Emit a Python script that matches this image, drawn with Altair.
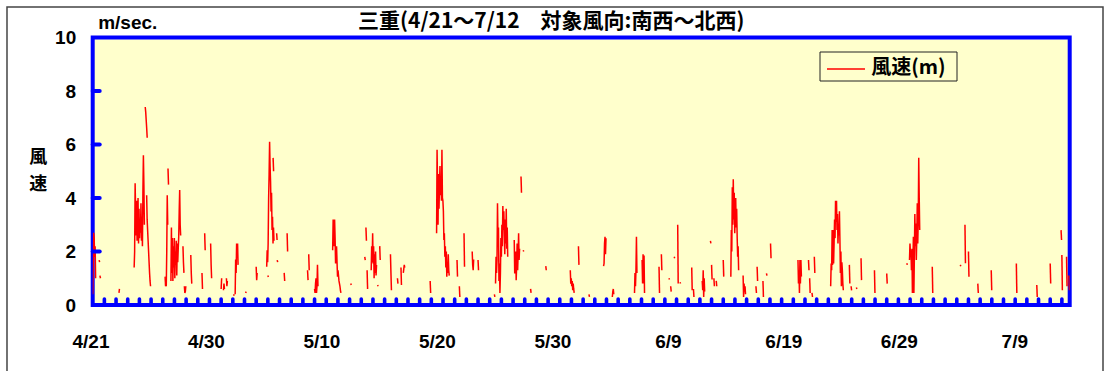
import altair as alt
import pandas as pd

# ---- data (x = days since 4/21, y = wind speed m/s, hourly steps) ----
seg_start = [0.0, 0.55, 0.62, 2.25, 3.55, 4.5, 4.62, 6.2, 6.3, 6.45, 6.7, 7.73, 7.85, 8.4, 9.36, 9.59,
             10.1, 11.0, 11.2, 11.45, 12.07, 12.2, 13.1, 14.0, 14.9, 15.45, 15.0, 15.75, 15.8, 16.4,
             16.65, 18.4, 18.5, 19.0, 20.55, 22.1, 23.3, 23.4, 23.5, 23.85, 24.4, 24.58, 25.5, 26.1,
             26.4, 26.6, 28.9, 29.45, 31.2, 31.4, 31.8, 32.5, 33.0, 34.4, 34.5, 36.1, 36.68, 36.87,
             37.5, 38.8, 40.9, 41.6, 42.5, 43.75, 44.5, 46.4, 47.05, 48.5, 48.7, 49.35, 49.5, 49.8,
             50.1, 50.3, 51.3, 51.45, 52.2, 52.9, 53.0, 53.2, 53.4, 54.0, 54.65, 55.7, 56.8, 56.9,
             57.4, 57.7, 58.05, 60.4, 61.3, 61.4, 61.6, 61.8, 63.2, 64.8, 64.95, 65.4, 65.8, 66.95,
             68.0, 69.72, 69.95, 71.9, 74.3, 74.7, 75.0, 75.8, 76.95, 79.1, 80.85, 82.0, 82.93, 83.0,
             83.4, 83.6]

seg_speed = [
    [0.4, 1.5, 2.7, 2.5, 1.8, 2.2, 1.0], [1.68, 1.6], [1.1, 1.0], [0.45, 0.6],
    [1.4, 2.0, 4.55, 3.5, 2.6, 3.9, 2.4, 3.2, 4.0, 2.3, 3.6, 2.5, 3.1, 2.7, 3.8, 2.4, 3.3, 2.2, 4.2, 5.6, 4.5, 3.0],
    [7.4, 7.2, 6.9, 6.6, 6.25], [4.1, 3.2, 2.8, 2.4, 2.0, 1.6, 1.2, 0.9, 0.7], [1.06, 0.7],
    [0.7, 2.0, 4.1, 3.0], [5.1, 4.5],
    [0.9, 2.9, 1.2, 2.5, 0.9, 2.2, 1.4, 2.5, 1.0, 2.0, 1.5, 2.4, 1.1, 2.3, 1.6, 2.1, 2.55, 3.5, 4.3, 3.0, 2.6],
    [2.2, 1.6, 1.2], [0.7, 0.45, 0.5, 0.7], [1.87, 1.2, 0.8], [1.2, 0.6], [2.68, 2.05],
    [2.3, 1.5, 1.0], [0.6, 1.0], [0.55, 0.8, 0.6], [1.0, 0.7, 0.9], [0.4, 0.35],
    [0.4, 1.7, 1.2, 2.3, 1.8, 2.3, 1.5], [0.45, 0.5], [1.43, 0.93, 1.2],
    [1.43, 2.05, 1.6, 2.3, 4.0, 4.9, 6.1, 5.2, 4.6, 3.5, 4.2, 2.8, 3.3, 2.3, 2.9, 2.4],
    [5.5, 5.0], [1.1, 1.05], [2.68, 2.43], [1.68, 1.6], [1.2, 0.9],
    [2.68, 2.0], [1.3, 0.93], [1.9, 1.3], [0.6, 0.45, 0.8, 1.0, 0.45, 0.7, 1.5, 0.7],
    [2.05, 3.2, 2.6, 2.2, 3.2, 2.5, 1.55, 2.0, 2.2, 1.6, 1.06, 1.3, 1.1, 0.9, 0.8, 0.7, 0.55, 0.45],
    [0.8, 0.75], [1.8, 1.68], [2.9, 2.4], [1.3, 0.6],
    [1.3, 2.2, 1.6, 2.68, 1.55, 2.2, 1.0, 1.9, 1.2, 2.0, 1.1, 1.5], [0.75, 0.7], [2.2, 1.68],
    [1.9, 1.2, 0.55], [1.0, 0.8], [1.4, 0.75], [1.2, 1.35, 1.5, 1.4], [0.9, 0.45],
    [2.68, 5.8, 4.4, 3.0, 4.9, 3.6, 4.5, 5.2, 4.1, 4.6, 3.9, 5.8, 4.0, 3.9, 3.5, 2.43, 2.68, 1.8, 2.2, 1.4,
     2.0, 1.06, 1.6, 1.2, 1.9, 1.3, 1.1],
    [1.68, 1.06], [0.7, 0.3], [2.68, 1.43], [2.0, 1.5, 1.3, 1.7], [1.68, 1.3], [0.4, 0.3],
    [0.8, 1.8, 1.2, 1.68, 3.8, 2.5, 2.9, 0.9, 1.55, 0.45, 1.2, 2.5, 1.8, 3.0, 2.2, 3.7, 2.8, 3.5, 2.6, 1.9,
     3.2, 2.3, 3.6, 2.1, 2.9, 1.8],
    [2.43, 1.18, 1.8, 2.0, 0.93, 1.5, 2.3, 1.3, 1.9, 2.68, 1.68, 2.1], [4.8, 4.2], [2.05, 2.0],
    [0.6, 0.45], [1.45, 1.3], [1.3, 0.8, 1.0, 0.7, 0.9, 0.55, 0.8, 0.6, 0.45], [2.2, 1.5], [0.4, 0.3],
    [1.45, 1.55, 2.3, 2.55, 1.9, 2.5], [0.3, 0.5, 0.6, 0.4], [0.45, 1.2, 0.7, 1.3, 2.55, 1.2],
    [1.68, 0.8, 1.9, 0.8, 1.85, 0.45], [1.43, 0.45], [1.9, 1.3], [1.0, 0.95], [0.7, 0.5], [1.8, 1.75],
    [3.0, 0.8], [0.85, 0.8], [1.4, 0.55], [0.6, 0.3], [0.9, 0.55, 1.3, 0.3, 1.0, 0.5], [2.4, 2.3],
    [1.5, 0.95], [1.0, 0.7], [0.9, 0.7], [1.68, 1.06],
    [1.06, 2.8, 2.0, 4.4, 3.0, 4.7, 3.2, 4.2, 2.68, 3.5, 4.0, 2.9, 3.6, 2.55, 1.8, 2.2, 1.3],
    [1.1, 0.3, 0.8, 0.5, 0.7, 0.4], [0.7, 0.45], [1.43, 0.9], [0.9, 0.3], [1.18, 1.1], [2.3, 1.75],
    [1.68, 0.8, 1.3, 0.45, 1.68, 0.8, 1.68, 1.06], [1.68, 1.3], [1.0, 0.45], [0.45, 0.3], [1.8, 1.2],
    [0.7, 1.55, 1.3, 2.8, 1.5, 2.8, 1.55, 2.3, 3.2, 2.5, 3.9, 3.1, 3.9, 2.8, 3.4, 2.3, 3.0, 2.6, 3.5, 2.43,
     1.2, 2.0, 0.7, 1.6, 1.3, 0.8, 0.55],
    [1.5, 0.8], [0.7, 0.55], [0.65, 0.6], [1.75, 0.93], [1.3, 0.45], [1.18, 0.8], [1.56, 1.5],
    [1.68, 2.3, 1.9, 2.05, 1.3, 2.1, 0.45, 1.5, 2.55, 0.45, 1.8, 3.4, 2.2, 3.05, 1.68, 2.5, 3.8, 2.3, 3.2,
     5.5, 4.0, 2.8],
    [1.43, 0.45], [1.5, 1.45], [3.0, 1.56], [2.0, 1.06], [0.8, 0.45], [1.3, 0.55], [1.55, 0.45],
    [0.75, 0.3], [1.55, 0.8], [2.8, 2.43], [1.87, 0.55], [1.8, 0.7], [1.1, 0.55],
]

series_name = "風速(m)"
title_text = "三重(4/21～7/12　対象風向:南西～北西)"
unit_text = "m/sec."
date_labels = ["4/21", "4/30", "5/10", "5/20", "5/30", "6/9", "6/19", "6/29", "7/9"]
date_label_days = [-0.15, 9.74, 19.63, 29.52, 39.41, 49.3, 59.19, 69.08, 78.97]
y_tick_values = [0, 2, 4, 6, 8, 10]
y_inner_ticks = [2, 4, 6, 8]
day_ticks = list(range(1, 84))
x_max = 83.67

rows = []
for i, (s, vals) in enumerate(zip(seg_start, seg_speed)):
    for j, v in enumerate(vals):
        rows.append({"seg": i, "day": s + j / 24.0, "speed": v})
df = pd.DataFrame(rows)

W, H = 977, 267.5
BLUE = "#0000FF"
RED = "#FF0000"
LATIN = "Liberation Sans"
CJK = "Noto Sans CJK JP"

xscale = alt.Scale(domain=[0, x_max], nice=False, zero=False)
yscale = alt.Scale(domain=[0, 10], nice=False)

line = alt.Chart(df).mark_line(strokeWidth=1.5, clip=True, color=RED).encode(
    x=alt.X("day:Q", scale=xscale, axis=None),
    y=alt.Y("speed:Q", scale=yscale,
            axis=alt.Axis(values=y_tick_values, domain=False, ticks=False, grid=False,
                          labelPadding=17, labelFont=LATIN, labelFontSize=19,
                          labelFontWeight="bold", labelColor="#000",
                          title=["風", "速"], titleAngle=0, titleFont=CJK, titleFontSize=18,
                          titleFontWeight="bold", titleColor="#000", titleLineHeight=27,
                          titleAlign="center", titleBaseline="middle", titleX=-55, titleY=120)),
    detail="seg:N",
)

xlab_df = pd.DataFrame({"d": date_label_days, "t": date_labels})
xlabels = alt.Chart(xlab_df).mark_text(font=LATIN, fontSize=19, fontWeight="bold", align="center",
                                       baseline="middle", color="#000").encode(
    x=alt.X("d:Q", scale=xscale, axis=None), y=alt.value(H + 37), text="t:N")

ytick_df = pd.DataFrame({"v": y_inner_ticks})
yticks = alt.Chart(ytick_df).mark_rule(color=BLUE, strokeWidth=4, strokeCap="round").encode(
    y=alt.Y("v:Q", scale=yscale), x=alt.value(0), x2=alt.value(7))

xtick_df = pd.DataFrame({"d": day_ticks})
xticks = alt.Chart(xtick_df).mark_rule(color=BLUE, strokeWidth=3.6, strokeCap="round").encode(
    x=alt.X("d:Q", scale=xscale, axis=None), y=alt.value(H), y2=alt.value(H - 6))

unit_df = pd.DataFrame({"t": [unit_text]})
unit = alt.Chart(unit_df).mark_text(font=LATIN, fontSize=19, fontWeight="bold", align="left",
                                    baseline="middle", color="#000").encode(
    text="t:N", x=alt.value(5.5), y=alt.value(-15))

title_df = pd.DataFrame({"t": [title_text]})
title = alt.Chart(title_df).mark_text(font=CJK, fontSize=21, fontWeight="bold", align="center",
                                      baseline="middle", color="#000").encode(
    text="t:N", x=alt.value(458.5), y=alt.value(-15.5))

# legend box drawn as marks
leg_df = pd.DataFrame({"t": [series_name]})
leg_box = alt.Chart(leg_df).mark_rect(fill="#FFFFCC", stroke="#222", strokeWidth=1).encode(
    x=alt.value(727.3), x2=alt.value(864.3), y=alt.value(14.5), y2=alt.value(43.5))
leg_line = alt.Chart(leg_df).mark_rule(color=RED, strokeWidth=1.5).encode(
    x=alt.value(734.3), x2=alt.value(772.3), y=alt.value(31.5))
leg_text = alt.Chart(leg_df).mark_text(font=CJK, fontSize=20, fontWeight="bold", align="left",
                                       baseline="middle", color="#000").encode(
    text="t:N", x=alt.value(778.5), y=alt.value(30.5))

frame_df = pd.DataFrame({"f": [1]})
frame = alt.Chart(frame_df).mark_rect(fillOpacity=0, stroke="#444", strokeWidth=1.5).encode(
    x=alt.value(-85.7), x2=alt.value(1010.3), y=alt.value(-30.5), y2=alt.value(420))

chart = alt.layer(frame, line, yticks, xticks, xlabels, unit, title,
                  leg_box, leg_line, leg_text).properties(
    width=W, height=H,
    autosize=alt.AutoSizeParams(type="none"),
    padding={"left": 92.7, "top": 37.5, "right": 37.3, "bottom": 66},
    background="white",
).configure_view(fill="#FFFFCC", stroke=BLUE, strokeWidth=4)

chart.save("out.html", embed_options={"renderer": "svg", "actions": False})
